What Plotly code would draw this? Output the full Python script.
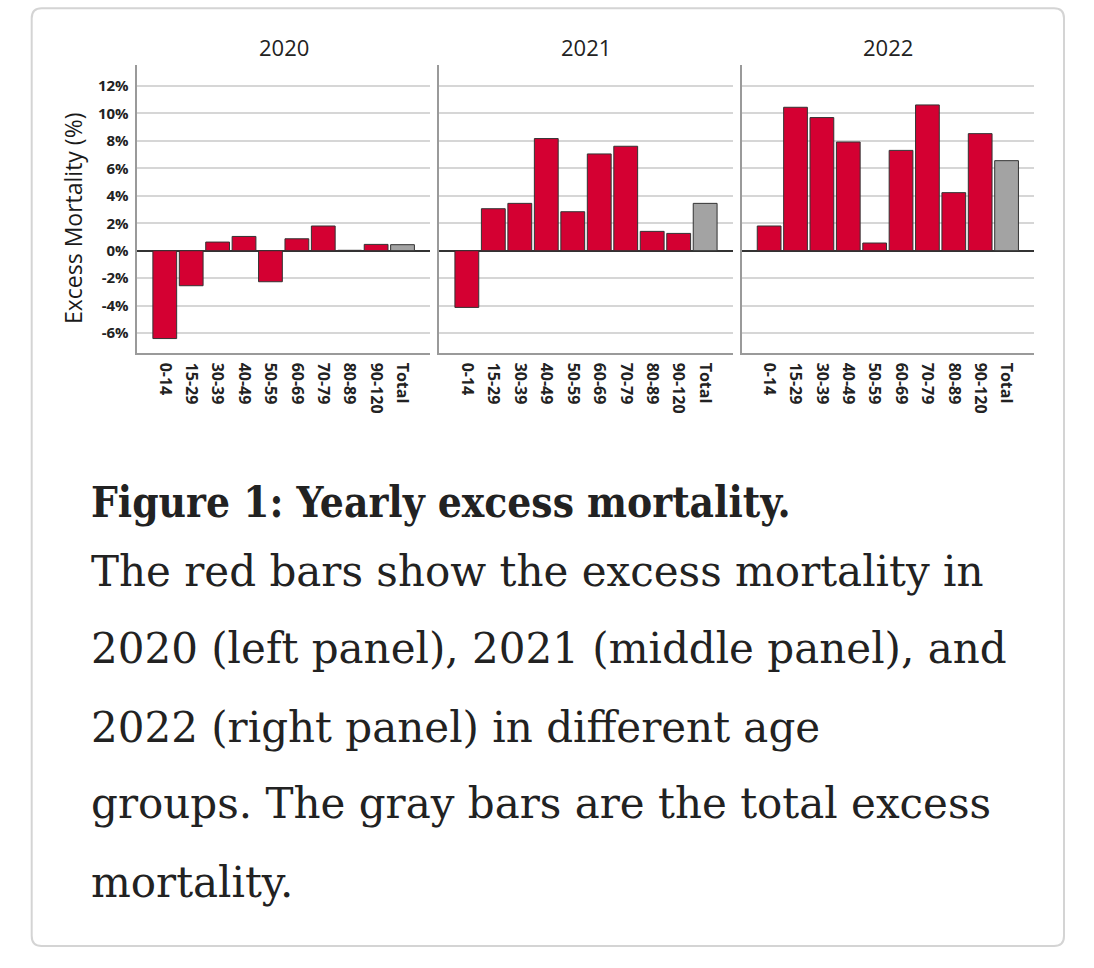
import plotly.graph_objects as go

# ---------------- data ----------------
categories = ["0-14", "15-29", "30-39", "40-49", "50-59", "60-69", "70-79", "80-89", "90-120", "Total"]
years = ["2020", "2021", "2022"]
excess_2020 = [-6.40, -2.55, 0.63, 1.04, -2.26, 0.87, 1.80, 0.03, 0.46, 0.44]
excess_2021 = [-4.13, 3.06, 3.45, 8.17, 2.84, 7.05, 7.61, 1.41, 1.26, 3.45]
excess_2022 = [1.80, 10.45, 9.70, 7.92, 0.56, 7.31, 10.62, 4.23, 8.53, 6.56]
ytick_values = [-6, -4, -2, 0, 2, 4, 6, 8, 10, 12]
ytick_labels = ["-6%", "-4%", "-2%", "0%", "2%", "4%", "6%", "8%", "10%", "12%"]
y_title = "Excess Mortality (%)"
caption_title = "Figure 1: Yearly excess mortality."
caption_lines = [
    "The red bars show the excess mortality in",
    "2020 (left panel), 2021 (middle panel), and",
    "2022 (right panel) in different age",
    "groups. The gray bars are the total excess",
    "mortality.",
]

# ---------------- styling / layout ----------------
W, H = 1094, 968
RED = "#D40032"
GRAY = "#A3A3A3"
SANS = "Open Sans, Noto Sans, sans-serif"
SERIF = "DejaVu Serif, serif"
SERIF_COND = "DejaVu Serif Condensed, DejaVu Serif, serif"


def px(x):
    return x / W


def py(y):
    return 1 - y / H


panel_px = [(137.3, 430.0), (439.3, 732.7), (741.7, 1034.0)]
y_dom = [py(352.7), py(65.0)]
series = [excess_2020, excess_2021, excess_2022]

fig = go.Figure()
layout_axes = {}
annotations = []
for i, (yr, vals) in enumerate(zip(years, series)):
    sfx = "" if i == 0 else str(i + 1)
    colors = [GRAY if c == "Total" else RED for c in categories]
    fig.add_trace(go.Bar(
        x=categories, y=vals,
        xaxis="x" + sfx, yaxis="y" + sfx,
        marker=dict(color=colors, line=dict(color="#333333", width=1)),
        showlegend=False, hoverinfo="skip",
    ))
    x0, x1 = panel_px[i]
    layout_axes["xaxis" + sfx] = dict(
        domain=[px(x0), px(x1)], anchor="y" + sfx, type="category",
        range=[-1.04, 10.04], showline=True, linecolor="#9a9a9a", linewidth=1.5,
        showgrid=False, ticks="", tickangle=90, ticklabelstandoff=5,
        tickfont=dict(family=SANS, size=16, color="#222222", weight="bold"),
        fixedrange=True,
    )
    layout_axes["yaxis" + sfx] = dict(
        domain=y_dom, anchor="x" + sfx, range=[-7.43, 13.53],
        tickvals=ytick_values, ticktext=ytick_labels, showticklabels=(i == 0),
        showgrid=True, gridcolor="#d6d6d6", gridwidth=1.5,
        zeroline=True, zerolinecolor="#333333", zerolinewidth=1.5,
        showline=True, linecolor="#9a9a9a", linewidth=1.5, ticks="",
        ticklabelstandoff=4,
        tickfont=dict(family=SANS, size=15, color="#222222", weight="bold"),
        fixedrange=True,
    )
    annotations.append(dict(
        text=yr, xref="paper", yref="paper", x=px((x0 + x1) / 2), y=py(47),
        xanchor="center", yanchor="middle", showarrow=False,
        font=dict(family=SANS, size=22, color="#222222"),
    ))

annotations.append(dict(
    text=y_title, xref="paper", yref="paper", x=px(73), y=py(219),
    xanchor="center", yanchor="middle", textangle=-90, showarrow=False,
    font=dict(family=SANS, size=23, color="#1a1a1a"),
))

# caption text
annotations.append(dict(
    text="<b>" + caption_title + "</b>", xref="paper", yref="paper",
    x=px(89), y=py(503), xanchor="left", yanchor="middle", showarrow=False,
    font=dict(family=SERIF_COND, size=42, color="#222222"),
))
line_centers = [571, 648, 727, 803, 882]
for txt, yc in zip(caption_lines, line_centers):
    annotations.append(dict(
        text=txt, xref="paper", yref="paper", x=px(89), y=py(yc),
        xanchor="left", yanchor="middle", showarrow=False,
        font=dict(family=SERIF, size=42, color="#222222"),
    ))

# rounded card border
cx0, cy0, cx1, cy1, r = 31.7, 8.3, 1064.0, 946.0, 10.0
rx, ry = r / W, r / H
L, R, T, B = px(cx0), px(cx1), py(cy0), py(cy1)
card_path = (
    f"M {L + rx} {T} L {R - rx} {T} Q {R} {T} {R} {T - ry} "
    f"L {R} {B + ry} Q {R} {B} {R - rx} {B} "
    f"L {L + rx} {B} Q {L} {B} {L} {B + ry} "
    f"L {L} {T - ry} Q {L} {T} {L + rx} {T} Z"
)

fig.update_layout(
    width=W, height=H,
    margin=dict(l=0, r=0, t=0, b=0),
    paper_bgcolor="white", plot_bgcolor="white",
    bargap=0.1,
    annotations=annotations,
    shapes=[dict(type="path", path=card_path, xref="paper", yref="paper",
                 line=dict(color="#d4d4d4", width=2), layer="below")],
    **layout_axes,
)

fig.write_html("out.html", config={"displayModeBar": False})
